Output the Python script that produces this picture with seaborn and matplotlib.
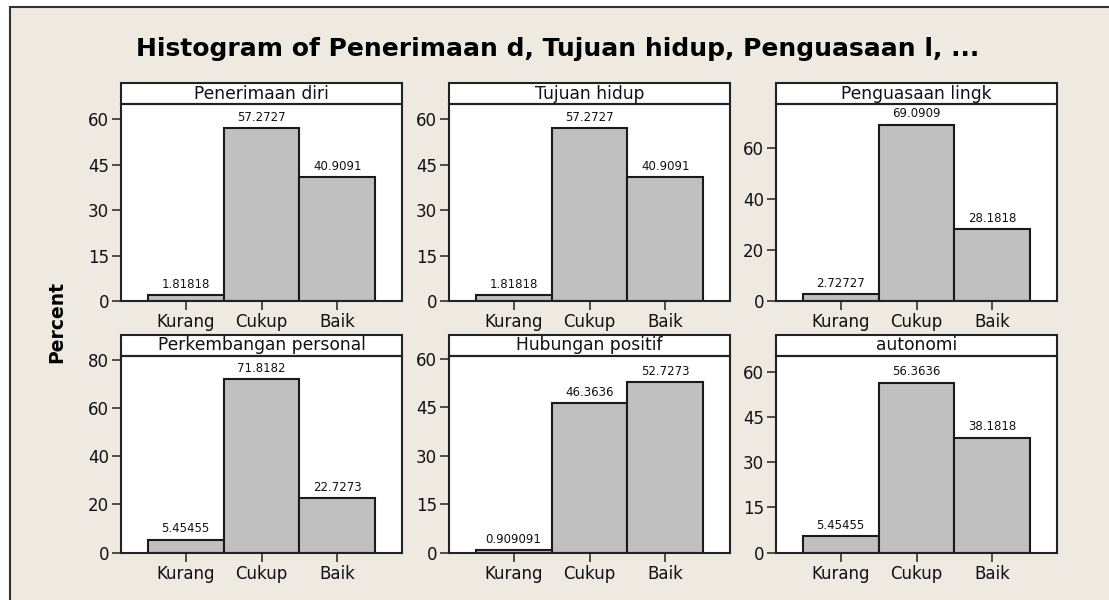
import pandas as pd
import matplotlib.pyplot as plt
from matplotlib.patches import Rectangle
import seaborn as sns

# Data: percent per category for each variable
categories = ['Kurang', 'Cukup', 'Baik']
panels = ['Penerimaan diri', 'Tujuan hidup', 'Penguasaan lingk',
          'Perkembangan personal', 'Hubungan positif', 'autonomi']
penerimaan_diri = [1.81818, 57.2727, 40.9091]
tujuan_hidup = [1.81818, 57.2727, 40.9091]
penguasaan_lingk = [2.72727, 69.0909, 28.1818]
perkembangan_personal = [5.45455, 71.8182, 22.7273]
hubungan_positif = [0.909091, 46.3636, 52.7273]
autonomi = [5.45455, 56.3636, 38.1818]

# axis setup per panel
y_max = [65, 65, 77, 81.5, 60.8, 65.2]
y_ticks = [[0, 15, 30, 45, 60], [0, 15, 30, 45, 60], [0, 20, 40, 60],
           [0, 20, 40, 60, 80], [0, 15, 30, 45, 60], [0, 15, 30, 45, 60]]
title = 'Histogram of Penerimaan d, Tujuan hidup, Penguasaan l, ...'

series = [penerimaan_diri, tujuan_hidup, penguasaan_lingk,
          perkembangan_personal, hubungan_positif, autonomi]
rows = []
for name, vals in zip(panels, series):
    for cat, v in zip(categories, vals):
        rows.append({'variabel': name, 'kategori': cat, 'persen': v})
df = pd.DataFrame(rows)

sns.set_style('white')
plt.rcParams['font.family'] = ['DejaVu Sans']

W, H = 1109, 600
fig = plt.figure(figsize=(W / 100, H / 100), dpi=100, facecolor='white')

# beige background panel with left/top border
fig.add_artist(Rectangle((10 / W, -0.05), 1.1, (H - 7) / H + 0.05,
                         transform=fig.transFigure, facecolor='#EEEAE1',
                         edgecolor='#333333', linewidth=1.5, zorder=0))

lefts = [121, 449, 776]
bottoms = [299, 47.3]
aw, ah = 281, 196.7
strip_h = 21

for i, name in enumerate(panels):
    col, row = i % 3, i // 3
    ax = fig.add_axes([lefts[col] / W, bottoms[row] / H, aw / W, ah / H])
    ax.set_facecolor('white')
    sub = df[df['variabel'] == name]
    sns.barplot(data=sub, x='kategori', y='persen', order=categories,
                color='#C0C0C0', saturation=1, edgecolor='#1a1a1a',
                linewidth=1.5, width=1.0, ax=ax)
    ax.bar_label(ax.containers[0], fmt='%g', padding=3, fontsize=8.5,
                 color='#111111')
    ax.set_xlim(-0.85, 2.85)
    ax.set_ylim(0, y_max[i])
    ax.set_yticks(y_ticks[i])
    ax.set_xlabel('')
    ax.set_ylabel('')
    for s in ax.spines.values():
        s.set_color('#222222')
        s.set_linewidth(1.5)
    ax.tick_params(axis='both', direction='out', length=6.5, width=1.1,
                   color='#222222', labelsize=12, pad=2, labelcolor='#111111')
    ax.tick_params(axis='x', bottom=True)
    ax.tick_params(axis='y', left=True)

    # strip header like Minitab panel label
    ax.add_patch(Rectangle((0, 1), 1, strip_h / ah, transform=ax.transAxes,
                           clip_on=False, facecolor='white',
                           edgecolor='#222222', linewidth=1.5))
    ax.text(0.5, 1 + strip_h / 2 / ah, name, transform=ax.transAxes,
            ha='center', va='center', fontsize=12.3, color='#111111')

fig.text(558 / W, 1 - 56 / H, title, ha='center', va='baseline',
         fontsize=18, fontweight='bold', color='#000000')
fig.text(57 / W, 1 - 322 / H, 'Percent', rotation=90, ha='center',
         va='center', fontsize=13.5, fontweight='bold', color='#000000')

fig.savefig('out.png', dpi=100, facecolor='white')
